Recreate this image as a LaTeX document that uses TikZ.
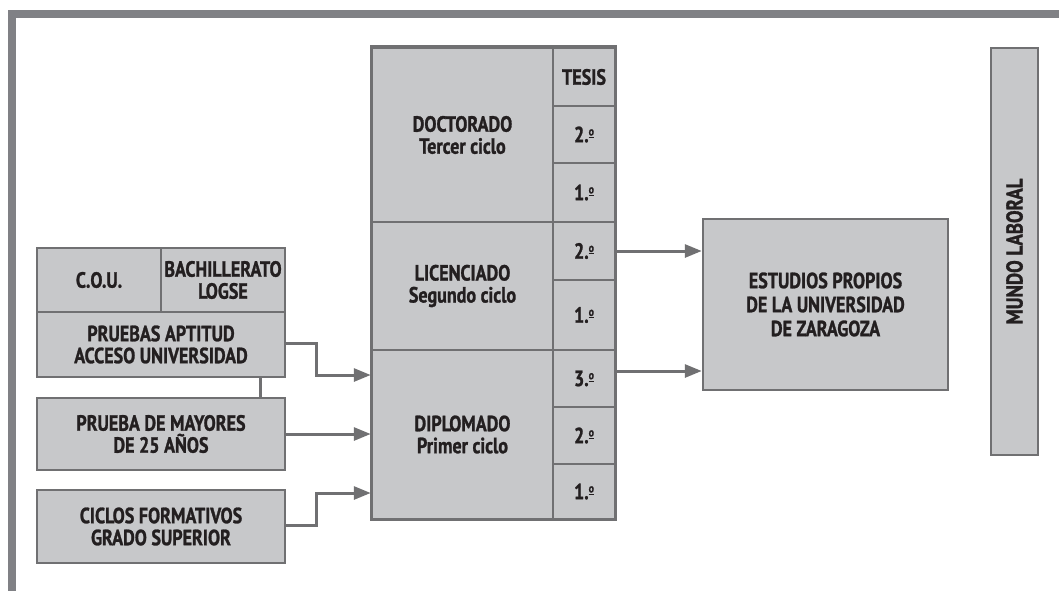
\documentclass[tikz,border=0pt]{standalone}
\usepackage{fontspec}
\setmainfont[FakeStretch=0.82, BoldFeatures={FakeBold=1.2}]{PT Sans}
\usetikzlibrary{arrows.meta}
\definecolor{cellgray}{RGB}{199,200,202}
\definecolor{linegray}{RGB}{112,112,114}
\definecolor{framegray}{RGB}{128,129,133}
\definecolor{inkblack}{RGB}{35,31,32}
\newcommand{\ordo}{\raisebox{.62ex}{\fontsize{12}{12}\selectfont\underline{o}}}

\begin{document}
\begin{tikzpicture}[x=1pt, y=-1pt,
      cell/.style={draw=linegray, fill=cellgray, line width=2.5pt, inner sep=1pt, align=center, text=inkblack, font=\bfseries\fontsize{22}{22}\selectfont},
      yearcell/.style={cell, line width=1.5pt, minimum width=62pt},
      arr/.style={draw=linegray, line width=3pt, -{Triangle[length=17pt,width=13pt]}},
      link/.style={draw=linegray, line width=3pt}
    ]
      \useasboundingbox (0,0) rectangle (1059,591);

      % frame
      \draw[framegray, line width=8pt] (12,591) -- (12,14) -- (1059,14);

      % Doctorado
      \node[cell, minimum width=181pt, minimum height=174pt] (doc) at (462.5,135) {DOCTORADO\\Tercer ciclo};
      \node[yearcell, minimum height=58pt] (tesis) at (584,77) {TESIS};
      \node[yearcell, minimum height=57pt] (doc2) at (584,134.5) {2.\ordo};
      \node[yearcell, minimum height=59pt] (doc1) at (584,192.5) {1.\ordo};

      % Licenciado
      \node[cell, minimum width=181pt, minimum height=128pt] (lic) at (462.5,286) {LICENCIADO\\Segundo ciclo};
      \node[yearcell, minimum height=58pt] (lic2) at (584,251) {2.\ordo};
      \node[yearcell, minimum height=70pt] (lic1) at (584,315) {1.\ordo};

      % Diplomado
      \node[cell, minimum width=181pt, minimum height=169pt] (dip) at (462.5,434.5) {DIPLOMADO\\Primer ciclo};
      \node[yearcell, minimum height=57pt] (dip3) at (584,378.5) {3.\ordo};
      \node[yearcell, minimum height=57pt] (dip2) at (584,435.5) {2.\ordo};
      \node[yearcell, minimum height=55pt] (dip1) at (584,491.5) {1.\ordo};

      \draw[linegray, line width=2.5pt] (doc.north west) rectangle (dip1.south east);

      % access
      \node[cell, minimum width=124pt, minimum height=64pt] (cou) at (99,280) {C.O.U.};
      \node[cell, minimum width=124pt, minimum height=64pt] (bach) at (223,280) {BACHILLERATO\\LOGSE};
      \node[cell, minimum width=248pt, minimum height=65pt] (pau) at (161,344.5) {PRUEBAS APTITUD\\ACCESO UNIVERSIDAD};
      \node[cell, minimum width=248pt, minimum height=72pt] (may) at (161,434) {PRUEBA DE MAYORES\\DE 25 AÑOS};
      \node[cell, minimum width=248pt, minimum height=73pt] (cfgs) at (161,526.5) {CICLOS FORMATIVOS\\GRADO SUPERIOR};

      % right side
      \node[cell, minimum width=245pt, minimum height=171pt, font=\bfseries\fontsize{22}{24}\selectfont] (est) at (825.5,304.5) {ESTUDIOS PROPIOS\\DE LA UNIVERSIDAD\\DE ZARAGOZA};
      \node[cell, minimum width=47pt, minimum height=407pt] (mundo) at (1014.5,251.5) {};
      \node[rotate=90, text=inkblack, font=\bfseries\fontsize{23}{24}\selectfont] (mundotxt) at (mundo.center) {MUNDO LABORAL};

      % connectors
      \draw[link] ([xshift=99pt]pau.south) -- ([xshift=99pt]may.north);
      \draw[arr] ([yshift=1.5pt]pau.east) -- ++(30pt,0pt) |- ([yshift=59.5pt]dip.west);
      \draw[arr] (may.east) -- (may.east -| dip.west);
      \draw[arr] ([yshift=1.5pt]cfgs.east) -- ++(30pt,0pt) |- ([yshift=-58.5pt]dip.west);
      \draw[arr] (lic2.east) -- (lic2.east -| est.west);
      \draw[arr] ([yshift=7.5pt]dip3.east) -- ([yshift=7.5pt]dip3.east -| est.west);
    \end{tikzpicture}
\end{document}
